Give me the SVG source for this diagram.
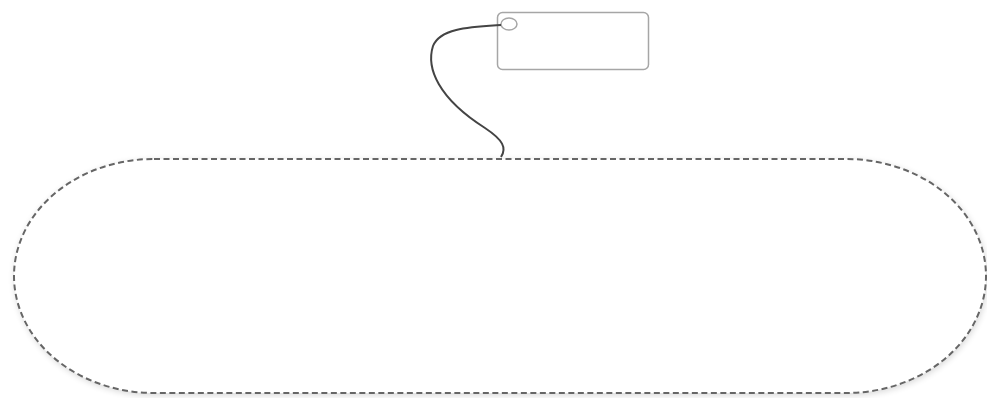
<svg xmlns="http://www.w3.org/2000/svg" width="987" height="398" viewBox="0 0 987 398">
<defs>
<filter id="sh" x="-5%" y="-10%" width="110%" height="120%">
<feGaussianBlur in="SourceAlpha" stdDeviation="3"/>
<feOffset dx="1" dy="2"/>
<feComponentTransfer><feFuncA type="linear" slope="0.15"/></feComponentTransfer>
<feMerge><feMergeNode/><feMergeNode in="SourceGraphic"/></feMerge>
</filter>
</defs>
<style>
.group{fill:#ffffff;stroke:#666666;stroke-width:2;stroke-dasharray:6 3.5;}
.tag{fill:#ffffff;stroke:#a6a6a6;stroke-width:1.5;}
.string{fill:none;stroke:#444444;stroke-width:2;}
</style>
<rect width="987" height="398" fill="#ffffff"/>
<g id="group">
<rect class="group" x="14" y="159" width="972" height="234" rx="140" ry="117" filter="url(#sh)"/>
</g>
<g id="tag">
<rect class="tag" x="497.5" y="12.5" width="151" height="57" rx="5" ry="5"/>
<ellipse class="tag" cx="509" cy="24" rx="8" ry="6"/>
</g>
<g id="connectors">
<path class="string" d="M 501 25 C 470 27, 440 28, 433 46 C 426 68, 438 98, 485 128 C 503 140, 507 148, 501 157"/>
</g>
</svg>
